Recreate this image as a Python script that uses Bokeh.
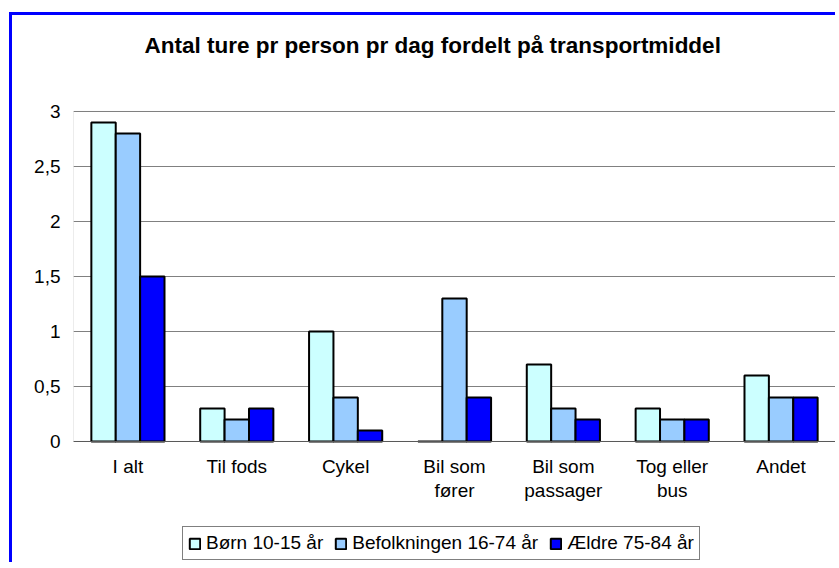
from bokeh.plotting import figure
from bokeh.models import (ColumnDataSource, FactorRange, Range1d, FixedTicker,
                          Legend, LegendItem, BoxAnnotation, Span, Label)
from bokeh.core.properties import value
from bokeh.transform import dodge
from bokeh.embed import file_html
from bokeh.resources import INLINE

# ---- data ----
title_text = "Antal ture pr person pr dag fordelt på transportmiddel"
categories = ["I alt", "Til fods", "Cykel", "Bil som\nfører", "Bil som\npassager",
              "Tog eller\nbus", "Andet"]
series_names = ["Børn 10-15 år", "Befolkningen 16-74 år", "Ældre 75-84 år"]
born = [2.9, 0.3, 1.0, 0.0, 0.7, 0.3, 0.6]
befolkningen = [2.8, 0.2, 0.4, 1.3, 0.3, 0.2, 0.4]
aeldre = [1.5, 0.3, 0.1, 0.4, 0.2, 0.2, 0.4]
y_ticks = [0, 0.5, 1, 1.5, 2, 2.5, 3]
y_tick_labels = ["0", "0,5", "1", "1,5", "2", "2,5", "3"]

colors = ["#CCFFFF", "#99CCFF", "#0000FF"]
FONT = "Liberation Sans"
FS = "19px"

source = ColumnDataSource(dict(cat=categories, born=born, bef=befolkningen, ael=aeldre))

# frame extends beyond the value axis so title, category labels and legend live inside it
p = figure(x_range=FactorRange(*categories, range_padding=0.0), y_range=Range1d(-1.1, 3.845),
           width=826, height=550, output_backend="svg", toolbar_location=None,
           min_border_left=61, min_border_right=3, min_border_top=3, min_border_bottom=3)
p.styles = {"border-top": "3px solid #0000FF", "border-left": "3px solid #0000FF",
            "margin-top": "12px", "margin-left": "9px"}

p.background_fill_color = "white"
p.border_fill_color = "white"
p.outline_line_color = None

# title
p.add_layout(Label(x=3.3, y=3.6, text=title_text, text_font=FONT, text_font_size="22.5px",
                   text_font_style="bold", text_color="black", text_align="center",
                   text_baseline="middle"))

# plot area box (0..3)
p.add_layout(BoxAnnotation(left=0, right=len(categories), bottom=0, top=3,
                           fill_alpha=0, line_color="#808080", line_width=1, level="underlay"))

bw = 0.224
renderers = []
for col, off, c in zip(["born", "bef", "ael"], [-bw, 0, bw], colors):
    r = p.vbar(x=dodge("cat", off, range=p.x_range), top=col, width=bw, bottom=0,
               source=source, fill_color=c, line_color="black", line_width=2)
    renderers.append(r)

p.add_layout(Span(location=0, dimension="width", line_color="#595959", line_width=1))

# category labels
p.text(x="cat", y=-0.13, text="cat", source=source, text_font=value(FONT),
       text_font_size=FS, text_color="black", text_align="center",
       text_baseline="top", text_line_height=1.15)

# axes
p.xaxis.visible = False
p.yaxis.ticker = FixedTicker(ticks=y_ticks)
p.yaxis.major_label_overrides = {t: l for t, l in zip(y_ticks, y_tick_labels)}
p.yaxis.major_label_text_font = FONT
p.yaxis.major_label_text_font_size = FS
p.yaxis.major_label_text_color = "black"
p.yaxis.major_tick_out = 0
p.yaxis.major_tick_in = 0
p.yaxis.minor_tick_out = 0
p.yaxis.minor_tick_in = 0
p.yaxis.major_label_standoff = 13
p.yaxis.axis_line_color = None

p.xgrid.grid_line_color = None
p.ygrid.grid_line_color = "#808080"
p.ygrid.grid_line_width = 1

legend = Legend(items=[LegendItem(label=n, renderers=[r]) for n, r in zip(series_names, renderers)],
                orientation="horizontal", location=(109, 2))
legend.label_text_font = FONT
legend.label_text_font_size = FS
legend.label_text_color = "black"
legend.glyph_width = 13
legend.glyph_height = 13
legend.label_standoff = 5
legend.spacing = 11
legend.padding = 5
legend.margin = 0
legend.border_line_color = "black"
legend.border_line_width = 1
legend.background_fill_color = "white"
legend.background_fill_alpha = 1
p.add_layout(legend, "center")

open("out.html", "w").write(file_html(p, INLINE))
